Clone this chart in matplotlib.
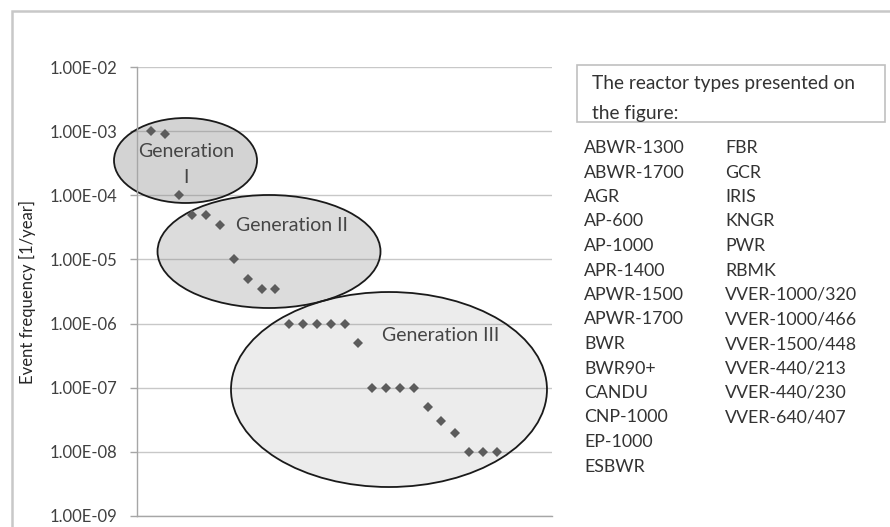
import numpy as np
import matplotlib
matplotlib.use('Agg')
import matplotlib.pyplot as plt
from matplotlib.patches import Ellipse, Rectangle
from matplotlib.ticker import FixedLocator, FixedFormatter

plt.rcParams['font.family'] = ['Lato', 'DejaVu Sans']

# event frequencies [1/year], one point per reactor design, ordered high to low
freq = [1e-3, 9e-4, 1e-4, 5e-5, 5e-5, 3.5e-5, 1e-5, 5e-6, 3.5e-6, 3.5e-6,
        1e-6, 1e-6, 1e-6, 1e-6, 1e-6, 5e-7, 1e-7, 1e-7, 1e-7, 1e-7,
        5e-8, 3e-8, 2e-8, 1e-8, 1e-8, 1e-8]
ytick_vals = [1e-2, 1e-3, 1e-4, 1e-5, 1e-6, 1e-7, 1e-8, 1e-9]
ytick_labels = ['1.00E-02', '1.00E-03', '1.00E-04', '1.00E-05',
                '1.00E-06', '1.00E-07', '1.00E-08', '1.00E-09']

gen_labels = ['Generation\nI', 'Generation II', 'Generation III']

legend_title = 'The reactor types presented on\nthe figure:'
reactors_col1 = ['ABWR-1300', 'ABWR-1700', 'AGR', 'AP-600', 'AP-1000', 'APR-1400',
                 'APWR-1500', 'APWR-1700', 'BWR', 'BWR90+', 'CANDU', 'CNP-1000',
                 'EP-1000', 'ESBWR']
reactors_col2 = ['FBR', 'GCR', 'IRIS', 'KNGR', 'PWR', 'RBMK', 'VVER-1000/320',
                 'VVER-1000/466', 'VVER-1500/448', 'VVER-440/213', 'VVER-440/230',
                 'VVER-640/407']

W, H = 890, 527
fig = plt.figure(figsize=(W / 100, H / 100), dpi=100)
fig.patch.set_facecolor('white')

# plot area in pixels: x 137..552, y 67..516
ax = fig.add_axes([137 / W, 1 - 516 / H, 415 / W, 449 / H])
ax.set_yscale('log')
ax.set_ylim(1e-9, 1e-2)
ax.set_xlim(0, 30)
ax.yaxis.set_major_locator(FixedLocator(ytick_vals))
ax.yaxis.set_major_formatter(FixedFormatter(ytick_labels))
ax.yaxis.set_minor_locator(FixedLocator([]))
ax.set_xticks([])
ax.tick_params(axis='y', length=5, width=1, color='#a6a6a6', pad=9,
               labelsize=12, labelcolor='#404040')
for s in ['top', 'right']:
    ax.spines[s].set_visible(False)
for s in ['left', 'bottom']:
    ax.spines[s].set_color('#a6a6a6')
    ax.spines[s].set_linewidth(1)
ax.grid(True, axis='y', color='#c8c8c8', linewidth=1, zorder=1)
ax.set_axisbelow(True)
ax.set_ylabel('Event frequency [1/year]', fontsize=12, color='#262626')
ax.yaxis.label.set_va('center')
ax.yaxis.set_label_coords((27 - 137) / 415, 0.5)

# generation ellipses (axes fraction): centre x, centre y, width, height, grey level, alpha
ellipses = [
    (0.1169, 0.7918, 0.3446, 0.1893, 0.5, 0.34),
    (0.3181, 0.5891, 0.5373, 0.2517, 0.5, 0.27),
    (0.6072, 0.2817, 0.7614, 0.4343, 0.5, 0.15),
]
for cx, cy, w, h, g, a in ellipses:
    ax.add_patch(Ellipse((cx, cy), w, h, transform=ax.transAxes,
                         facecolor=(g, g, g, a), edgecolor='#1a1a1a',
                         linewidth=1.3, zorder=2, clip_on=False))

text_pos = [(0.118, 0.783), (0.3735, 0.6459), (0.7325, 0.4031)]
for (tx, ty), lab in zip(text_pos, gen_labels):
    ax.text(tx, ty, lab, transform=ax.transAxes, ha='center', va='center',
            fontsize=14, color='#454545', linespacing=1.7, zorder=4)

x = np.arange(1, len(freq) + 1)
ax.plot(x, freq, linestyle='none', marker='D', markersize=5.5,
        color='#5c5c5c', markeredgewidth=0, zorder=5)

# outer chart frame (only the top and left edges fall inside the image)
fig.add_artist(Rectangle((12 / W, -0.1), 1.2, 1.1 - 11 / H, transform=fig.transFigure,
                         fill=False, edgecolor='#c8c8c8', linewidth=1.8))

# legend header box
fig.add_artist(Rectangle((577 / W, 1 - 122 / H), 308 / W, 57 / H,
                         transform=fig.transFigure, fill=False,
                         edgecolor='#c0c0c0', linewidth=1.2))
fig.text(592 / W, 1 - 98.5 / H, legend_title, ha='left', va='center',
         fontsize=13.8, color='#333333', linespacing=1.95)

for i, name in enumerate(reactors_col1):
    fig.text(584 / W, 1 - (148 + 24.5 * i) / H, name, ha='left', va='center',
             fontsize=12.8, color='#333333')
for i, name in enumerate(reactors_col2):
    fig.text(725 / W, 1 - (148 + 24.5 * i) / H, name, ha='left', va='center',
             fontsize=12.8, color='#333333')

fig.savefig('out.png', dpi=100)
